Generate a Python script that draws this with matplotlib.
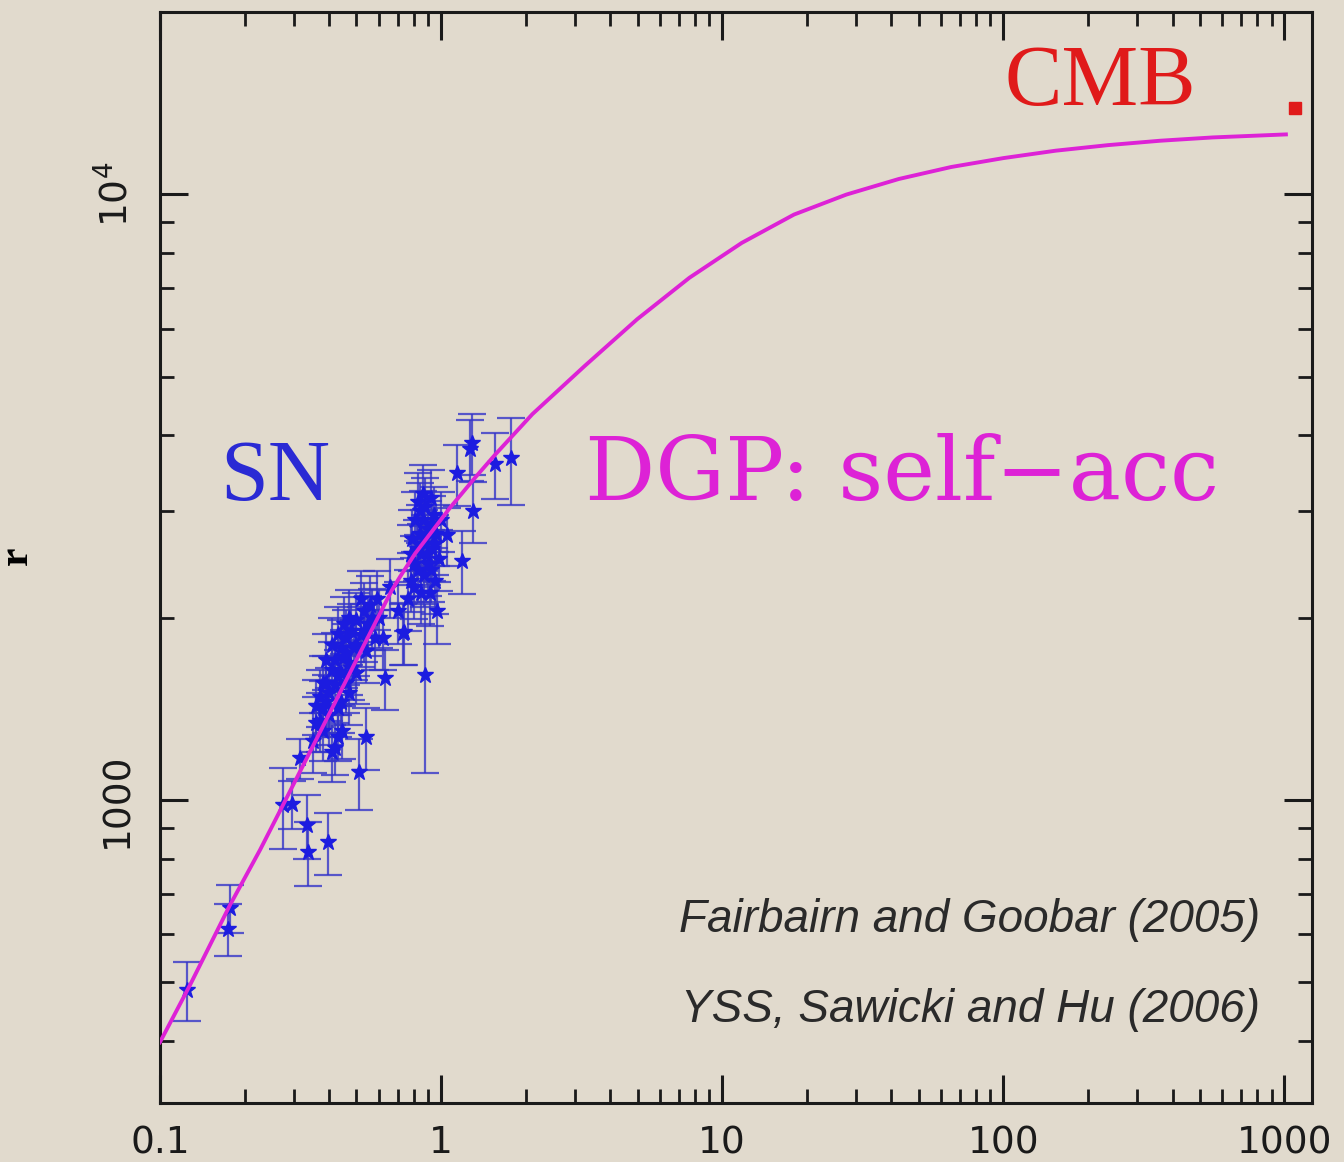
import numpy as np
import matplotlib
matplotlib.use("Agg")
import matplotlib.pyplot as plt
from matplotlib.ticker import FixedLocator, NullFormatter, LogLocator

plt.rcParams["font.family"] = ["DejaVu Sans"]

# DGP self-accelerating curve (z, r)
curve_z = [0.100, 0.128, 0.177, 0.227, 0.274, 0.403, 0.494, 0.622, 0.668, 0.714,
           0.808, 1.077, 1.321, 1.565, 2.113, 3.243, 4.981, 7.644, 11.73, 18.01,
           27.64, 42.44, 65.15, 100.0, 153.5, 235.6, 361.7, 555.3, 1011.6]
curve_r = [398, 495, 669, 827, 981, 1396, 1684, 2080, 2219, 2335,
           2551, 3039, 3405, 3726, 4336, 5207, 6218, 7281, 8312, 9259,
           9989, 10598, 11092, 11475, 11803, 12055, 12259, 12413, 12556]

# supernova points (z, r, error)
sn_z = [0.125, 0.174, 0.177, 0.274, 0.295, 0.315, 0.333, 0.337, 0.396, 0.51,
        0.54, 0.43, 0.42, 0.445,
        0.36, 0.37, 0.38, 0.39, 0.40, 0.41, 0.42, 0.43, 0.44, 0.45,
        0.46, 0.47, 0.48, 0.49, 0.50, 0.50, 0.52, 0.53, 0.54, 0.55,
        0.56, 0.58, 0.60, 0.62, 0.63, 0.36, 0.38, 0.40, 0.44, 0.47,
        0.41, 0.43, 0.46, 0.35, 0.39, 0.45, 0.52, 0.66, 0.70, 0.73,
        0.76, 0.78, 0.80, 0.80, 0.82, 0.83, 0.84, 0.85, 0.86, 0.87,
        0.88, 0.88, 0.90, 0.90, 0.92, 0.93, 0.94, 0.95, 0.96, 0.98,
        0.83, 0.86, 0.79, 0.91, 0.97, 0.74, 1.00, 0.88,
        1.05, 1.14, 1.19, 1.29, 1.27, 1.30, 1.56, 1.77,
        0.37, 0.39, 0.42, 0.44, 0.46, 0.48, 0.50, 0.53, 0.57, 0.59,
        0.41, 0.43, 0.47, 0.38, 0.81, 0.84, 0.87, 0.89, 0.92, 0.95,
        0.78, 0.85, 0.93]
sn_r = [486, 613, 664, 980, 985, 1172, 910, 820, 853, 1111,
        1270, 1270, 1220, 1300,
        1430, 1480, 1420, 1560, 1500, 1640, 1700, 1600, 1780, 1720,
        1850, 1680, 1900, 1780, 1980, 1620, 1870, 2050, 1760, 1950,
        2100, 1850, 2000, 1850, 1590, 1340, 1300, 1380, 1450, 1500,
        1200, 1420, 1560, 1250, 1700, 1950, 2150, 2250, 2050, 1890,
        2150, 2300, 2450, 2250, 2600, 2400, 2750, 2550, 2900, 2350,
        3050, 2650, 2800, 2450, 3150, 2600, 2950, 2300, 2750, 2500,
        3100, 3200, 2700, 2200, 2050, 1892, 2900, 1607,
        2735, 3460, 2485, 3890, 3800, 3005, 3590, 3670,
        1350, 1450, 1550, 1620, 1750, 1650, 1800, 1900, 2000, 2150,
        1800, 1880, 2000, 1560, 2900, 3000, 2700, 2550, 2400, 2650,
        2550, 2200, 2850]
sn_err = [55, 60, 60, 150, 90, 90, 110, 100, 100, 150,
          150, 110, 120, 130,
          150, 160, 150, 170, 150, 180, 190, 170, 200, 190,
          210, 190, 210, 200, 220, 180, 210, 230, 200, 220,
          240, 210, 220, 210, 180, 140, 140, 150, 160, 170,
          130, 150, 170, 140, 180, 210, 240, 250, 240, 220,
          250, 260, 280, 260, 300, 280, 320, 300, 340, 270,
          350, 300, 320, 280, 360, 300, 340, 270, 320, 290,
          360, 370, 310, 260, 240, 220, 330, 500,
          300, 400, 300, 450, 440, 350, 450, 600,
          150, 160, 170, 180, 200, 190, 200, 210, 230, 240,
          200, 200, 220, 170, 330, 340, 310, 290, 280, 300,
          290, 250, 330]

cmb_z = [1089]
cmb_r = [13900]

bg = "#e1dacd"
fig = plt.figure(figsize=(13.44, 11.62), dpi=100, facecolor=bg)
ax = fig.add_axes([0.119, 0.0508, 0.857, 0.9389])
ax.set_facecolor(bg)
ax.set_xscale("log")
ax.set_yscale("log")

ax.errorbar(sn_z, sn_r, yerr=sn_err, fmt="none", ecolor="#3535c8", elinewidth=1.6,
            capsize=10, capthick=1.6, alpha=0.8, zorder=2)
ax.plot(sn_z, sn_r, ls="none", marker="*", ms=12, color="#1c1ce0", zorder=3)
ax.plot(curve_z, curve_r, color="#dd22d6", lw=2.8, zorder=4)
ax.plot(cmb_z, cmb_r, ls="none", marker="s", ms=8, color="#e01a1a", zorder=5)

ax.set_xlim(0.1, 1250)
ax.set_ylim(316, 20000)

for s in ax.spines.values():
    s.set_linewidth(2.2)
    s.set_color("#1a1a1a")

ax.xaxis.set_major_locator(FixedLocator([0.1, 1, 10, 100, 1000]))
ax.xaxis.set_minor_locator(LogLocator(base=10, subs=np.arange(2, 10)))
ax.xaxis.set_minor_formatter(NullFormatter())
ax.set_xticklabels(["0.1", "1", "10", "100", "1000"])
ax.yaxis.set_major_locator(FixedLocator([1000, 10000]))
ax.yaxis.set_minor_locator(LogLocator(base=10, subs=np.arange(2, 10)))
ax.yaxis.set_minor_formatter(NullFormatter())
ax.set_yticklabels(["1000", r"$\mathregular{10^4}$"], rotation=90, va="center")

ax.tick_params(which="both", direction="in", top=True, right=True, color="#1a1a1a")
ax.tick_params(which="major", length=20, width=2.2, labelsize=27)
ax.tick_params(which="minor", length=10, width=2.0)
ax.tick_params(axis="x", which="major", pad=16)
ax.tick_params(axis="y", which="major", pad=18)
for lab in ax.get_xticklabels() + ax.get_yticklabels():
    lab.set_color("#1a1a1a")

ax.set_ylabel("r", fontsize=30, family="Liberation Serif", fontweight="bold")
ax.yaxis.set_label_coords(-0.108, 0.502)

ax.text(0.052, 0.553, "SN", transform=ax.transAxes, fontsize=62,
        family="Liberation Serif", color="#2a2ad4", va="baseline")
ax.text(0.369, 0.553, "DGP: self\u2212acc", transform=ax.transAxes, fontsize=63,
        family="DejaVu Serif", color="#dd22d6", va="baseline")
ax.text(0.733, 0.915, "CMB", transform=ax.transAxes, fontsize=62,
        family="Liberation Serif", color="#e01a1a", va="baseline")

ax.text(0.955, 0.168, "Fairbairn and Goobar (2005)", transform=ax.transAxes,
        fontsize=33, family="Liberation Sans", style="italic", color="#2a2a2a",
        ha="right", va="center")
ax.text(0.955, 0.085, "YSS, Sawicki and Hu (2006)", transform=ax.transAxes,
        fontsize=33, family="Liberation Sans", style="italic", color="#2a2a2a",
        ha="right", va="center")

fig.savefig("out.png", dpi=100, facecolor=bg)
